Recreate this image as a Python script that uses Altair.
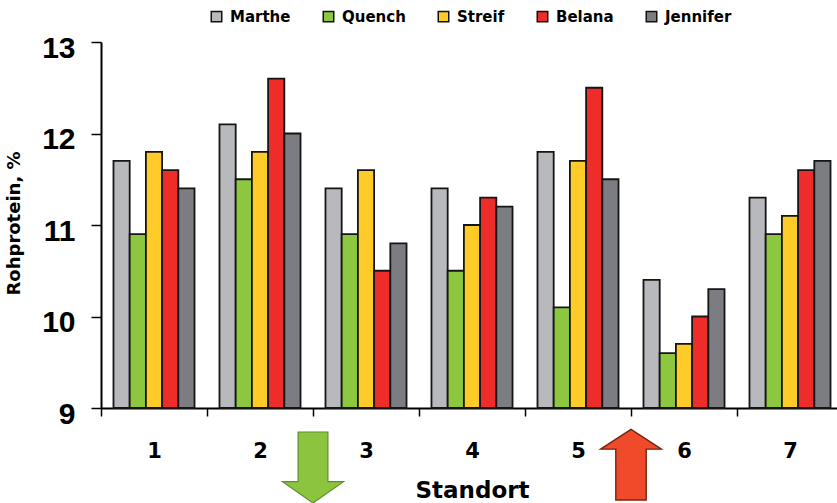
import altair as alt
import pandas as pd

# Standorte and Sorten
standorte = ["1", "2", "3", "4", "5", "6", "7"]
sorten = ["Marthe", "Quench", "Streif", "Belana", "Jennifer"]
farben = ["#b8b9bd", "#8dc63f", "#ffcb29", "#ee2d2a", "#7c7d82"]

# Rohprotein (%) per Sorte, one value per Standort
marthe = [11.7, 12.1, 11.4, 11.4, 11.8, 10.4, 11.3]
quench = [10.9, 11.5, 10.9, 10.5, 10.1, 9.6, 10.9]
streif = [11.8, 11.8, 11.6, 11.0, 11.7, 9.7, 11.1]
belana = [11.6, 12.6, 10.5, 11.3, 12.5, 10.0, 11.6]
jennifer = [11.4, 12.0, 10.8, 11.2, 11.5, 10.3, 11.7]

y_ticks = [9, 10, 11, 12, 13]

# arrows drawn between Standorte (right edge of the given band)
pfeil_standort = ["2", "5"]
pfeil_richtung = ["down", "up"]

werte = {"Marthe": marthe, "Quench": quench, "Streif": streif,
         "Belana": belana, "Jennifer": jennifer}
rows = []
for sorte in sorten:
    for st, v in zip(standorte, werte[sorte]):
        rows.append({"Standort": st, "Sorte": sorte, "Rohprotein": v})
df = pd.DataFrame(rows)
df["Basis"] = y_ticks[0]

pfeile = pd.DataFrame({"Standort": pfeil_standort, "Richtung": pfeil_richtung})

BOLD_WIDE = "DejaVu Sans"
BOLD_NUM = "Liberation Sans"

x_scale = alt.Scale(domain=standorte, range=[0, 742], paddingInner=0, paddingOuter=0)

x_axis = alt.Axis(
    title="Standort",
    labelAngle=0,
    labelFont=BOLD_WIDE,
    labelFontWeight="bold",
    labelFontSize=21,
    labelColor="black",
    labelPadding=24,
    tickBand="extent",
    tickSize=8,
    tickColor="black",
    tickWidth=1.5,
    domainColor="black",
    domainWidth=2,
    titleFont=BOLD_WIDE,
    titleFontWeight="bold",
    titleFontSize=23,
    titleColor="black",
    titleX=371,
    titleY=89,
    titleAlign="center",
    titleBaseline="alphabetic",
)

bars = alt.Chart(df).mark_bar().encode(
    x=alt.X("Standort:N", sort=standorte, scale=x_scale, axis=x_axis),
    xOffset=alt.XOffset("Sorte:N", sort=sorten,
                        scale=alt.Scale(paddingInner=0, paddingOuter=0.77)),
    y=alt.Y(
        "Rohprotein:Q",
        scale=alt.Scale(domain=[y_ticks[0], y_ticks[-1]], zero=False, nice=False),
        axis=alt.Axis(
            title="Rohprotein, %",
            values=y_ticks,
            grid=False,
            labelFont=BOLD_NUM,
            labelFontWeight="bold",
            labelFontSize=30,
            labelColor="black",
            labelPadding=16,
            labelOffset=6,
            tickSize=10,
            tickColor="black",
            tickWidth=1.5,
            domainColor="black",
            domainWidth=2,
            titleFont=BOLD_WIDE,
            titleFontWeight="bold",
            titleFontSize=18,
            titleColor="black",
            titleX=-78,
            titleY=181,
            titleAngle=-90,
            titleAlign="center",
            titleBaseline="bottom",
        ),
    ),
    y2="Basis:Q",
    fill=alt.Fill(
        "Sorte:N",
        sort=sorten,
        scale=alt.Scale(domain=sorten, range=farben),
        legend=alt.Legend(
            title=None,
            orient="none",
            direction="horizontal",
            legendX=108,
            legendY=-33,
            padding=0,
            symbolType="square",
            symbolSize=110,
            symbolStrokeColor="#111111",
            symbolStrokeWidth=1.5,
            labelFont=BOLD_WIDE,
            labelFontWeight="bold",
            labelFontSize=15,
            labelColor="black",
            labelOffset=6,
            columnPadding=29,
        ),
    ),
    stroke=alt.value("#151515"),
    strokeWidth=alt.value(1.8),
)

pfad_runter = "M -0.42,-1 L 0.42,-1 L 0.42,0.4 L 0.86,0.4 L 0,1 L -0.86,0.4 L -0.42,0.4 Z"
pfad_hoch = "M 0,-1 L 0.86,-0.44 L 0.43,-0.44 L 0.43,1 L -0.43,1 L -0.43,-0.44 L -0.86,-0.44 Z"

pfeil_gruen = alt.Chart(pfeile).transform_filter(
    alt.datum.Richtung == "down"
).mark_point(
    shape=pfad_runter, size=5041, filled=True, fill="#8cc43f",
    stroke="#5e8f2a", strokeWidth=1.2, opacity=1,
).encode(
    x=alt.X("Standort:N", sort=standorte, scale=x_scale, bandPosition=1, axis=x_axis),
    y=alt.value(425.5),
)

pfeil_rot = alt.Chart(pfeile).transform_filter(
    alt.datum.Richtung == "up"
).mark_point(
    shape=pfad_hoch, size=5000, filled=True, fill="#ef4a2a",
    stroke="#7a2410", strokeWidth=1.4, opacity=1,
).encode(
    x=alt.X("Standort:N", sort=standorte, scale=x_scale, bandPosition=1, axis=x_axis),
    y=alt.value(422.7),
)

chart = alt.layer(bars, pfeil_gruen, pfeil_rot).properties(
    width=736,
    height=366,
    autosize="none",
    padding={"left": 101, "top": 42, "right": 0, "bottom": 95},
    background="white",
).configure_view(stroke=None)

chart.save("out.html", embed_options={"renderer": "svg", "actions": False})
